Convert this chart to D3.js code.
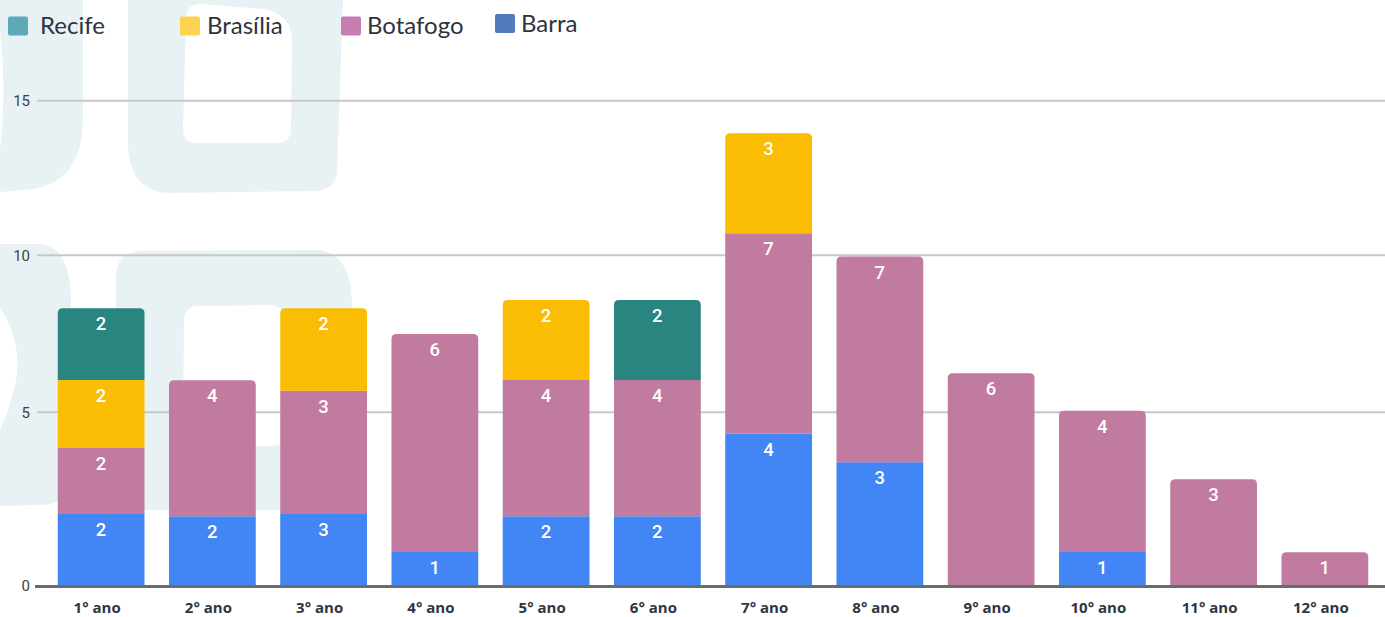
<!DOCTYPE html>
<html>
<head>
<meta charset="utf-8">
<script src="https://cdn.jsdelivr.net/npm/d3@7"></script>
<style>
  html, body { margin: 0; padding: 0; background: #ffffff; }
  svg { display: block; }
</style>
</head>
<body>
<svg id="chart" width="1385" height="617"></svg>
<script>
// ---------------- DATA ----------------
const categories = ["1° ano","2° ano","3° ano","4° ano","5° ano","6° ano","7° ano","8° ano","9° ano","10° ano","11° ano","12° ano"];
const seriesNames = ["Recife","Brasília","Botafogo","Barra"];
const yTicks = [0, 5, 10, 15];

// printed data labels
const barraLabels    = [2,2,3,1,2,2,4,3,0,1,0,0];
const botafogoLabels = [2,4,3,6,4,4,7,7,6,4,3,1];
const brasiliaLabels = [2,0,2,0,2,0,3,0,0,0,0,0];
const recifeLabels   = [2,0,0,0,0,2,0,0,0,0,0,0];

// segment heights as drawn in the picture (read against the axis)
const barraValues    = [2.07,2.01,2.07,0.98,2.01,2.01,4.38,3.56,0,0.98,0,0];
const botafogoValues = [1.90,4.01,3.62,6.51,4.02,4.02,6.33,6.40,6.24,4.07,3.07,0.97];
const brasiliaValues = [2.06,0,2.62,0,2.55,0,3.24,0,0,0,0,0];
const recifeValues   = [2.28,0,0,0,0,2.55,0,0,0,0,0,0];

// ---------------- STYLE ----------------
const barColors = { "Barra":"#4285f4", "Botafogo":"#c27ba0", "Brasília":"#fabd03", "Recife":"#288580" };
const legendColors = { "Recife":"#5fa8b8", "Brasília":"#fdd24f", "Botafogo":"#c87db1", "Barra":"#5079be" };

const svg = d3.select("#chart");

// ---------------- BACKGROUND DECORATION ----------------
const deco = svg.append("g").attr("fill", "#e8f2f5").attr("fill-rule", "evenodd");
deco.append("path").attr("d",
  "M0,0 L83,0 L83,120 Q82,186 25,190 L0,192 L0,150 Q7,90 0,30 Z");
deco.append("path").attr("d",
  "M128,0 L343,0 L337,172 Q335,190 316,191 L172,193 Q128,193 128,142 Z " +
  "M200,4 L262,9 Q291,13 292,40 L291,130 Q290,143 277,143 L197,143 Q183,143 183,130 L186,18 Q187,4 200,4 Z");
deco.append("path").attr("d",
  "M0,244 L40,244 Q70,246 71,300 L70,475 Q68,505 42,505 L0,506 Z " +
  "M0,308 Q22,340 16,380 Q9,412 0,430 Z");
deco.append("path").attr("d",
  "M142,251 L318,250 Q350,252 352,302 L352,510 L140,510 Q116,510 116,486 L116,278 Q116,251 142,251 Z " +
  "M198,306 L270,305 Q285,306 285,320 L285,434 Q285,446 272,446 L198,446 Q183,446 183,432 L184,320 Q185,306 198,306 Z");

// ---------------- SCALES ----------------
const x = d3.scaleBand()
  .domain(categories)
  .range([45.5, 1380.5])
  .paddingInner(0.22)
  .paddingOuter(0.11);

const y = d3.scaleLinear()
  .domain([0, 5, 10, 15])
  .range([586, 412.3, 255.3, 100.7]);

// ---------------- GRID ----------------
const grid = svg.append("g");
grid.selectAll("line")
  .data(yTicks.filter(d => d !== 0))
  .join("line")
  .attr("x1", 37).attr("x2", 1385)
  .attr("y1", d => y(d)).attr("y2", d => y(d))
  .attr("stroke", "#c8c8c8").attr("stroke-width", 2);

const yAxis = d3.axisLeft(y).tickValues(yTicks).tickSize(0).tickPadding(0);
const yg = svg.append("g").attr("transform", "translate(30,0)").call(yAxis);
yg.select(".domain").remove();
yg.selectAll("text")
  .attr("font-family", "Roboto, 'Noto Sans', sans-serif")
  .attr("font-size", 15)
  .attr("fill", "#3c4043");

// ---------------- STACK ----------------
const rows = categories.map((c, i) => ({
  cat: c,
  "Barra": barraValues[i], "Botafogo": botafogoValues[i], "Brasília": brasiliaValues[i], "Recife": recifeValues[i]
}));
const labelRows = categories.map((c, i) => ({
  "Barra": barraLabels[i], "Botafogo": botafogoLabels[i], "Brasília": brasiliaLabels[i], "Recife": recifeLabels[i]
}));
const stackOrder = ["Barra","Botafogo","Brasília","Recife"];
const stacked = d3.stack().keys(stackOrder)(rows);

const topKey = categories.map((c, i) => {
  let k = null;
  stackOrder.forEach(s => { if (rows[i][s] > 0) k = s; });
  return k;
});

function segPath(x0, w, yTop, yBot, rounded) {
  const r = rounded ? Math.min(5, (yBot - yTop) / 2) : 0;
  return `M${x0},${yBot} L${x0},${yTop + r} Q${x0},${yTop} ${x0 + r},${yTop} ` +
         `L${x0 + w - r},${yTop} Q${x0 + w},${yTop} ${x0 + w},${yTop + r} L${x0 + w},${yBot} Z`;
}

const bars = svg.append("g");
stacked.forEach(layer => {
  const key = layer.key;
  bars.append("g").selectAll("path")
    .data(layer.map((d, i) => ({ d, i })).filter(o => o.d[1] - o.d[0] > 0))
    .join("path")
    .attr("d", o => segPath(x(categories[o.i]), x.bandwidth(), y(o.d[1]), y(o.d[0]), topKey[o.i] === key))
    .attr("fill", barColors[key]);
});

// labels
const labels = svg.append("g")
  .attr("font-family", "Roboto, 'Noto Sans', sans-serif")
  .attr("font-size", 18.5)
  .attr("font-weight", 500)
  .attr("fill", "#ffffff")
  .attr("text-anchor", "middle");
stacked.forEach(layer => {
  const key = layer.key;
  labels.append("g").selectAll("text")
    .data(layer.map((d, i) => ({ d, i })).filter(o => o.d[1] - o.d[0] > 0))
    .join("text")
    .attr("x", o => x(categories[o.i]) + x.bandwidth() / 2)
    .attr("y", o => y(o.d[1]) + 22)
    .text(o => labelRows[o.i][key]);
});

// baseline
svg.append("line")
  .attr("x1", 35).attr("x2", 1385)
  .attr("y1", y(0) + 0.5).attr("y2", y(0) + 0.5)
  .attr("stroke", "#6b6b6b").attr("stroke-width", 3);

// x axis
const xAxis = d3.axisBottom(x).tickSize(0).tickPadding(0);
const xg = svg.append("g").attr("transform", "translate(-4,613)").call(xAxis);
xg.select(".domain").remove();
xg.selectAll("text")
  .attr("dy", 0)
  .attr("font-family", "'Open Sans', Roboto, sans-serif")
  .attr("font-size", 15)
  .attr("font-weight", 700)
  .attr("fill", "#2f3542");

// ---------------- LEGEND ----------------
const legendLayout = [
  { sx: 8,   sy: 16.5, tx: 40,  ty: 34 },
  { sx: 180, sy: 16.5, tx: 207, ty: 34 },
  { sx: 341, sy: 16.5, tx: 367, ty: 34 },
  { sx: 495, sy: 14,   tx: 521, ty: 32 }
];
const legend = svg.append("g");
seriesNames.forEach((name, i) => {
  const L = legendLayout[i];
  legend.append("rect")
    .attr("x", L.sx).attr("y", L.sy).attr("width", 20).attr("height", 19)
    .attr("rx", 2).attr("fill", legendColors[name]);
  legend.append("text")
    .attr("x", L.tx).attr("y", L.ty)
    .attr("font-family", "Lato, 'Noto Sans', sans-serif")
    .attr("font-size", 24)
    .attr("fill", "#2b3440")
    .text(name);
});
</script>
</body>
</html>
